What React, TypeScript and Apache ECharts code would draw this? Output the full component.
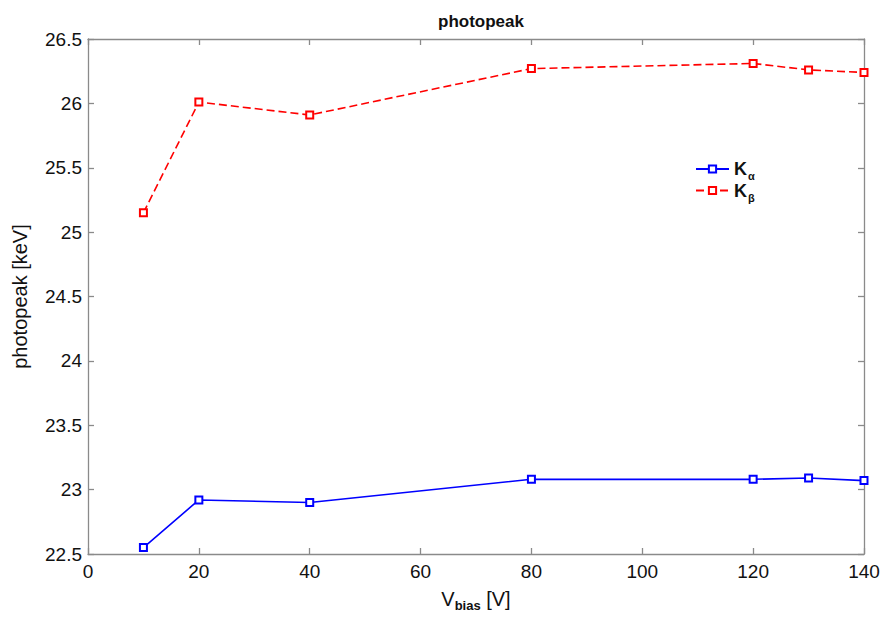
import React, { useEffect, useRef } from "react";
import * as echarts from "echarts";

const vbias = [10, 20, 40, 80, 120, 130, 140];
const kAlpha = [22.55, 22.92, 22.9, 23.08, 23.08, 23.09, 23.07];
const kBeta = [25.15, 26.01, 25.91, 26.27, 26.31, 26.26, 26.24];
const xTicks = { min: 0, max: 140, interval: 20 };
const yTicks = { min: 22.5, max: 26.5, interval: 0.5 };

const FONT = "Liberation Sans";
const AXIS_COLOR = "#8a8a8a";

export default function App() {
  const ref = useRef<HTMLDivElement>(null);
  useEffect(() => {
    if (!ref.current) return;
    const chart = echarts.init(ref.current, undefined, { renderer: "svg" });
    const axisCommon = {
      axisLine: { show: true, onZero: false, lineStyle: { color: AXIS_COLOR, width: 1.3 } },
      axisTick: { show: true, inside: true, length: 6, lineStyle: { color: AXIS_COLOR, width: 1.3 } },
      splitLine: { show: false },
    };
    const labelStyle = { fontSize: 19, color: "#111", fontFamily: FONT };
    chart.setOption({
      animation: false,
      backgroundColor: "#ffffff",
      title: {
        text: "photopeak",
        left: 476,
        top: 8,
        textAlign: "center",
        textStyle: { fontSize: 17, fontWeight: "bold", color: "#111", fontFamily: FONT },
      },
      grid: { left: 88, top: 39, right: 20, bottom: 62, containLabel: false },
      legend: {
        orient: "vertical",
        left: 690,
        top: 155,
        itemWidth: 33,
        itemHeight: 9,
        itemGap: 0,
        formatter: (name: string) =>
          name === "Kα" ? "{k|K}{s|α}" : "{k|K}{s|β}",
        data: ["Kα", "Kβ"],
        textStyle: {
          fontFamily: FONT,
          color: "#111",
          rich: {
            k: { fontSize: 18, fontWeight: "bold", fontFamily: FONT, color: "#111" },
            s: { fontSize: 11, fontWeight: "bold", fontFamily: FONT, color: "#111", padding: [14, 0, 0, 1] },
          },
        },
      },
      xAxis: [
        {
          type: "value",
          position: "bottom",
          ...xTicks,
          ...axisCommon,
          axisLabel: { ...labelStyle, margin: 8 },
          name: "{v|V}{s|bias}{v| [V]}",
          nameLocation: "middle",
          nameGap: 31,
          nameTextStyle: {
            rich: {
              v: { fontSize: 20, fontFamily: FONT, color: "#111" },
              s: { fontSize: 13, fontWeight: "bold", fontFamily: FONT, color: "#111", padding: [14, 0, 0, 0] },
            },
          },
        },
        {
          type: "value",
          position: "top",
          ...xTicks,
          ...axisCommon,
          axisLabel: { show: false },
        },
      ],
      yAxis: [
        {
          type: "value",
          position: "left",
          ...yTicks,
          ...axisCommon,
          axisLabel: { ...labelStyle, margin: 6 },
          name: "photopeak [keV]",
          nameLocation: "middle",
          nameRotate: 90,
          nameGap: 58,
          nameTextStyle: { fontSize: 20, fontFamily: FONT, color: "#111" },
        },
        {
          type: "value",
          position: "right",
          ...yTicks,
          ...axisCommon,
          axisLabel: { show: false },
        },
      ],
      series: [
        {
          name: "Kα",
          type: "line",
          data: vbias.map((v, i) => [v, kAlpha[i]]),
          symbol: "emptyRect",
          symbolSize: 7,
          showSymbol: true,
          lineStyle: { color: "#0000ff", width: 1.6 },
          itemStyle: { color: "#0000ff", borderColor: "#0000ff", borderWidth: 1.3 },
        },
        {
          name: "Kβ",
          type: "line",
          data: vbias.map((v, i) => [v, kBeta[i]]),
          symbol: "emptyRect",
          symbolSize: 7,
          showSymbol: true,
          lineStyle: { color: "#ff0000", width: 1.6, type: [8, 4] },
          itemStyle: { color: "#ff0000", borderColor: "#ff0000", borderWidth: 1.3 },
        },
      ],
    });
    return () => chart.dispose();
  }, []);
  return (
    <div
      ref={ref}
      style={{ position: "fixed", left: 0, top: 0, width: 884, height: 617, background: "#fff" }}
    />
  );
}
